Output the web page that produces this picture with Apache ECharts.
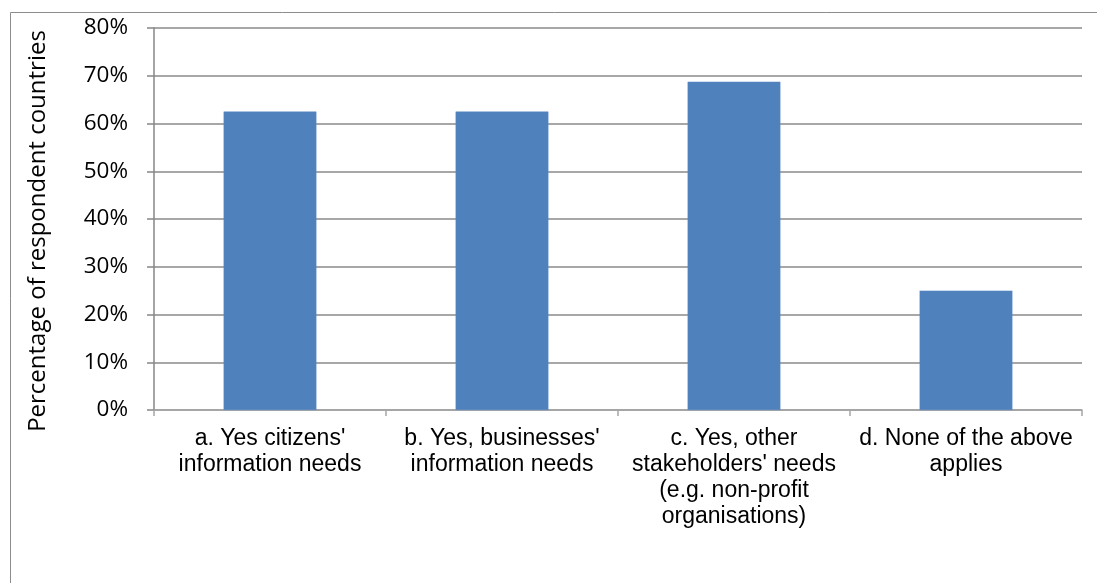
<!DOCTYPE html>
<html>
<head>
<meta charset="utf-8">
<script src="https://cdn.jsdelivr.net/npm/echarts@6/dist/echarts.min.js"></script>
<style>
  html, body { margin: 0; padding: 0; background: #fff; }
  #chart { width: 1097px; height: 583px; }
</style>
</head>
<body>
<div id="chart"></div>
<script>
// Survey answers and the share of respondent countries choosing each one
const categories = [
  "a. Yes citizens'\ninformation needs",
  "b. Yes, businesses'\ninformation needs",
  "c. Yes, other\nstakeholders' needs\n(e.g. non-profit\norganisations)",
  "d. None of the above\napplies"
];
const shares = [62.5, 62.5, 68.75, 25];
const yTicks = [0, 10, 20, 30, 40, 50, 60, 70, 80];

const chart = echarts.init(document.getElementById('chart'), null, { renderer: 'canvas' });

chart.setOption({
  animation: false,
  backgroundColor: '#ffffff',
  graphic: [{
    type: 'rect',
    shape: { x: 10.5, y: 12.5, width: 1200, height: 800 },
    style: { fill: 'none', stroke: '#8c8c8c', lineWidth: 1 },
    silent: true
  }],
  grid: { left: 154, right: 15, top: 28, bottom: 173, containLabel: false },
  xAxis: {
    type: 'category',
    data: categories,
    axisLine: { show: true, lineStyle: { color: '#a6a6a6', width: 1.5 } },
    axisTick: { show: true, alignWithLabel: false, length: 6, lineStyle: { color: '#a6a6a6', width: 1.5 } },
    axisLabel: {
      interval: 0,
      margin: 16,
      color: '#000',
      fontFamily: 'Liberation Sans, Arial, sans-serif',
      fontSize: 23,
      lineHeight: 26,
      align: 'center'
    },
    splitLine: { show: false }
  },
  yAxis: {
    type: 'value',
    min: yTicks[0],
    max: yTicks[yTicks.length - 1],
    interval: 10,
    name: 'Percentage of respondent countries',
    nameLocation: 'middle',
    nameGap: 104,
    nameRotate: 90,
    nameTextStyle: {
      color: '#000',
      fontFamily: 'Open Sans, sans-serif',
      fontSize: 24,
      padding: [0, 24, 0, 0]
    },
    axisLine: { show: true, lineStyle: { color: '#868686', width: 1.5 } },
    axisTick: { show: true, inside: false, length: 7, lineStyle: { color: '#868686', width: 1.5 } },
    axisLabel: {
      margin: 26,
      color: '#000',
      fontFamily: 'Open Sans, sans-serif',
      fontSize: 22.5,
      formatter: v => v + '%'
    },
    splitLine: { show: true, lineStyle: { color: '#8a8a8a', width: 1.5 } }
  },
  series: [{
    type: 'bar',
    data: shares,
    barWidth: '40%',
    itemStyle: { color: '#4f81bd', borderColor: '#5a8ac4', borderWidth: 0.5 }
  }]
});
</script>
</body>
</html>
